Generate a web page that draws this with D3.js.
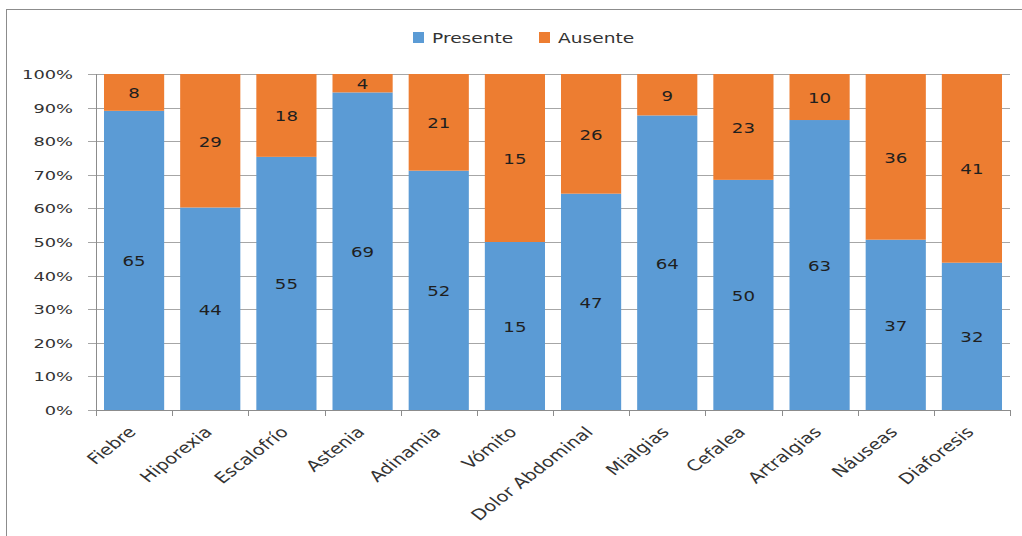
<!DOCTYPE html>
<html><head><meta charset="utf-8">
<script src="https://cdn.jsdelivr.net/npm/d3@7"></script>
<style>body{margin:0;background:#fff}svg{display:block}</style>
</head><body>
<script>
const categories = ["Fiebre","Hiporexia","Escalofrío","Astenia","Adinamia","Vómito","Dolor Abdominal","Mialgias","Cefalea","Artralgias","Náuseas","Diaforesis"];
const presente = [65,44,55,69,52,15,47,64,50,63,37,32];
const ausente  = [8,29,18,4,21,15,26,9,23,10,36,41];
const seriesNames = ["Presente","Ausente"];
const seriesColors = ["#5B9BD5","#ED7D31"];
const yTicks = [0,0.1,0.2,0.3,0.4,0.5,0.6,0.7,0.8,0.9,1];

(function(){
const W = 1022, H = 536;
const svg = d3.select("body").append("svg").attr("width",W).attr("height",H);
const FONT = "DejaVu Sans";

svg.append("rect").attr("x",6.5).attr("y",9.5).attr("width",1040).attr("height",560)
  .attr("fill","#fff").attr("stroke","#8c8c8c").attr("stroke-width",1);

const mL = 96, mR = 1010, mT = 74, mB = 410;
const x = d3.scaleBand().domain(categories).range([mL,mR]).paddingInner(0.21).paddingOuter(0.105);
const y = d3.scaleLinear().domain([0,1]).range([mB,mT]);

const rows = categories.map((c,i)=>({cat:c, Presente:presente[i], Ausente:ausente[i], total:presente[i]+ausente[i]}));
const stack = d3.stack().keys(seriesNames).value((d,k)=>d[k]/d.total)(rows);

svg.append("g").selectAll("line").data(yTicks).join("line")
  .attr("x1",mL-8).attr("x2",mR).attr("y1",d=>Math.round(y(d))+0.5).attr("y2",d=>Math.round(y(d))+0.5)
  .attr("stroke","#a6a6a6").attr("stroke-width",1);

svg.append("g").selectAll("text").data(yTicks).join("text")
  .attr("transform",d=>`translate(73,${y(d)+5}) scale(1.37,1)`)
  .attr("text-anchor","end").attr("font-family",FONT).attr("font-size",13).attr("fill","#333")
  .text(d=>d3.format(".0%")(d));

const g = svg.append("g");
stack.forEach((s,si)=>{
  g.append("g").selectAll("rect").data(s).join("rect")
    .attr("x",d=>x(d.data.cat)).attr("width",x.bandwidth())
    .attr("y",d=>y(d[1])).attr("height",d=>y(d[0])-y(d[1]))
    .attr("fill",seriesColors[si]);
});
stack.forEach((s,si)=>{
  g.append("g").selectAll("text").data(s).join("text")
    .attr("transform",d=>`translate(${x(d.data.cat)+x.bandwidth()/2},${(y(d[0])+y(d[1]))/2+6}) scale(1.3,1)`)
    .attr("text-anchor","middle").attr("font-family",FONT).attr("font-size",14).attr("fill","#1f1f1f")
    .text(d=>d.data[seriesNames[si]]);
});

svg.append("line").attr("x1",mL+0.5).attr("x2",mL+0.5).attr("y1",mT).attr("y2",mB+6).attr("stroke","#8c8c8c");
svg.append("line").attr("x1",mL).attr("x2",mR).attr("y1",mB+0.5).attr("y2",mB+0.5).attr("stroke","#8c8c8c");
const bounds = d3.range(categories.length+1).map(i=>mL+i*(mR-mL)/categories.length);
svg.append("g").selectAll("line").data(bounds).join("line")
  .attr("x1",d=>Math.round(d)+0.5).attr("x2",d=>Math.round(d)+0.5).attr("y1",mB).attr("y2",mB+6)
  .attr("stroke","#8c8c8c");

svg.append("g").selectAll("text").data(categories).join("text")
  .attr("transform",d=>`translate(${x(d)+x.bandwidth()/2+3},${mB+23}) scale(1.3,1) rotate(-45)`)
  .attr("text-anchor","end").attr("font-family",FONT).attr("font-size",15).attr("fill","#333")
  .text(d=>d);

const legX = [413,539];
const lg = svg.append("g");
seriesNames.forEach((n,i)=>{
  lg.append("rect").attr("x",legX[i]).attr("y",32).attr("width",11).attr("height",11).attr("fill",seriesColors[i]);
  lg.append("text").attr("transform",`translate(${legX[i]+19},43) scale(1.33,1)`)
    .attr("font-family",FONT).attr("font-size",14).attr("fill","#333").text(n);
});
})();
</script>
</body></html>
